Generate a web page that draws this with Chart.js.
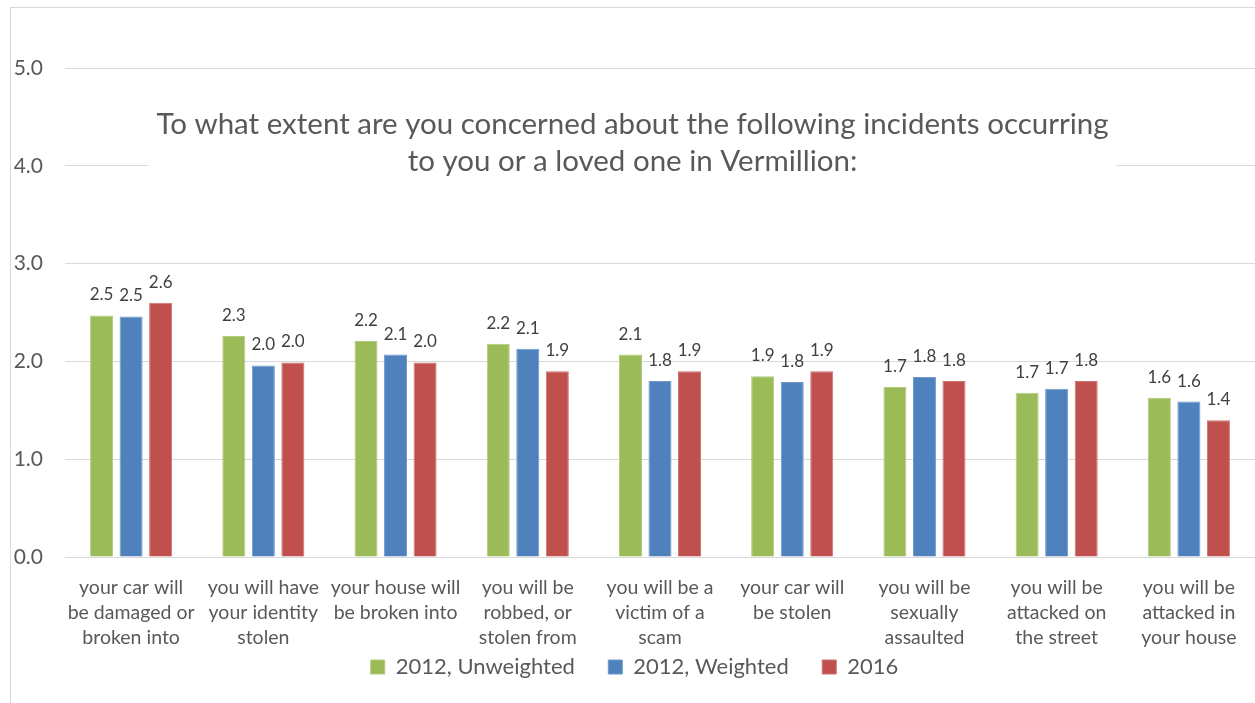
<!DOCTYPE html>
<html>
<head>
<meta charset="utf-8">
<script src="https://cdn.jsdelivr.net/npm/chart.js@4"></script>
<style>
  html, body { margin: 0; padding: 0; background: #fff; overflow: hidden; }
  #frame { position: absolute; left: 10px; top: 7px; width: 1300px; height: 760px; border: 1px solid #d9d9d9; }
  #wrap { position: absolute; left: 0; top: 0; width: 1255px; height: 703px; }
</style>
</head>
<body>
<div id="frame"></div>
<div id="wrap"><canvas id="myChart" width="1255" height="703"></canvas></div>
<script>
const categories = [
    ["your car will", "be damaged or", "broken into"],
    ["you will have", "your identity", "stolen"],
    ["your house will", "be broken into"],
    ["you will be", "robbed, or", "stolen from"],
    ["you will be a", "victim of a", "scam"],
    ["your car will", "be stolen"],
    ["you will be", "sexually", "assaulted"],
    ["you will be", "attacked on", "the street"],
    ["you will be", "attacked in", "your house"]
];

const unweighted2012 = [2.47, 2.26, 2.21, 2.18, 2.07, 1.85, 1.74, 1.68, 1.63];
const weighted2012 = [2.46, 1.96, 2.07, 2.13, 1.80, 1.79, 1.84, 1.72, 1.59];
const values2016 = [2.60, 1.99, 1.99, 1.90, 1.90, 1.90, 1.80, 1.80, 1.40];

const seriesNames = ["2012, Unweighted", "2012, Weighted", "2016"];
const yTicks = [0, 1, 2, 3, 4, 5];
const titleLines = [
    "To what extent are you concerned about the following incidents occurring",
    "to you or a loved one in Vermillion:"
];

const textColor = '#595959';
const fontFamily = "Lato, 'Open Sans', sans-serif";

// cím a rajzterületen belül, fehér háttérrel a rácsvonal fölött
const titlePlugin = {
    id: 'innerTitle',
    beforeDatasetsDraw(chart) {
        const c = chart.ctx;
        c.save();
        c.font = '29.5px ' + fontFamily;
        const w = Math.max(...titleLines.map(t => c.measureText(t).width));
        const cx = chart.width / 2 + 5;
        c.fillStyle = '#fff';
        c.fillRect(cx - w / 2 - 8, 95, w + 16, 90);
        c.fillStyle = textColor;
        c.textAlign = 'center';
        c.textBaseline = 'alphabetic';
        titleLines.forEach((t, i) => c.fillText(t, cx, 134 + i * 37));
        c.restore();
    }
};

const valueLabels = {
    id: 'valueLabels',
    afterDatasetsDraw(chart) {
        const c = chart.ctx;
        c.save();
        c.font = '17px ' + fontFamily;
        c.fillStyle = '#404040';
        c.textAlign = 'center';
        c.textBaseline = 'alphabetic';
        chart.data.datasets.forEach((ds, i) => {
            chart.getDatasetMeta(i).data.forEach((bar, j) => {
                c.fillText(ds.data[j].toFixed(1), bar.x, bar.y - 15);
            });
        });
        c.restore();
    }
};

const ctx = document.getElementById("myChart").getContext("2d");

new Chart(ctx, {
    type: 'bar',
    data: {
        labels: categories,
        datasets: [
            { label: seriesNames[0], data: unweighted2012, backgroundColor: '#9bbb59', borderColor: '#b0cb7a', borderWidth: 1 },
            { label: seriesNames[1], data: weighted2012, backgroundColor: '#4f81bd', borderColor: '#6f98cb', borderWidth: 1 },
            { label: seriesNames[2], data: values2016, backgroundColor: '#c0504d', borderColor: '#cd726f', borderWidth: 1 }
        ]
    },
    options: {
        responsive: false,
        animation: false,
        categoryPercentage: 0.67,
        barPercentage: 0.78,
        layout: { autoPadding: false, padding: { left: 14, right: 0, top: 68, bottom: 15 } },
        plugins: {
            title: { display: false },
            tooltip: { enabled: false },
            legend: {
                position: 'bottom',
                labels: {
                    color: textColor,
                    font: { family: fontFamily, size: 22 },
                    boxWidth: 14,
                    boxHeight: 14,
                    padding: 6,
                    // nagyobb térköz a tételek között
                    generateLabels(chart) {
                        const items = Chart.defaults.plugins.legend.labels.generateLabels(chart);
                        items.forEach((it, i) => {
                            if (i < items.length - 1) it.text += '\u2003\u2002';
                        });
                        return items;
                    }
                }
            }
        },
        scales: {
            x: {
                grid: { display: false },
                border: { display: false },
                afterFit(scale) { scale.height -= 10; },
                ticks: {
                    color: textColor,
                    font: { family: fontFamily, size: 19.5, lineHeight: 1.28 },
                    padding: 10,
                    maxRotation: 0,
                    autoSkip: false
                }
            },
            y: {
                min: yTicks[0],
                max: yTicks[yTicks.length - 1],
                afterBuildTicks(scale) {
                    scale.ticks = yTicks.map(v => ({ value: v }));
                },
                afterFit(scale) { scale.width = 51; },
                grid: { color: '#d9d9d9', lineWidth: 1, drawTicks: false },
                border: { display: false },
                ticks: {
                    color: textColor,
                    font: { family: fontFamily, size: 21 },
                    padding: 22,
                    callback: v => v.toFixed(1)
                }
            }
        }
    },
    plugins: [titlePlugin, valueLabels]
});
</script>
</body>
</html>
